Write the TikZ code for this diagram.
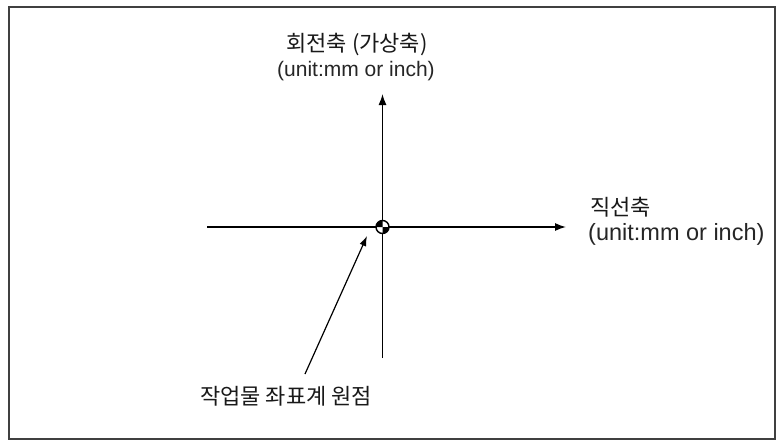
\documentclass[tikz,border=0pt]{standalone}
\usepackage{fontspec}
\setmainfont{Liberation Sans}
\newfontfamily\kr{Noto Sans CJK KR}
\usetikzlibrary{arrows.meta}
\begin{document}
\begin{tikzpicture}[x=1pt,y=-1pt,
  axis/.style={line width=1.4pt,-{Latex[length=11pt,width=8pt]}},
  axisplain/.style={line width=1.4pt},
  krtext/.style={inner sep=0pt,font=\kr\fontsize{22}{26}\selectfont,text=black!90},
  latin/.style={inner sep=0pt,text=black!85}]
\useasboundingbox (0,0) rectangle (777,442);
\fill[white] (0,0) rectangle (777,442);
\draw[line width=2pt,black!75] (9,7) rectangle (775,439);
% nodes
\coordinate (o) at (382.5,227);
\coordinate (xl) at (207,227);
\coordinate (xr) at (566,227);
\coordinate (yb) at (382.5,358);
\coordinate (yt) at (382.5,94);
\coordinate (pstart) at (305,374);
\coordinate (pend) at (367,236);
\draw[axisplain] (xl) -- (o);
\draw[axis] (o) -- (xr);
\draw[axisplain] (yb) -- (o);
\draw[axis] (o) -- (yt);
\draw[line width=1.2pt,-{Latex[length=10pt,width=7pt]}] (pstart) -- (pend);
% origin symbol
\fill[white] (o) circle[radius=6.5];
\fill[black] (o) -- ++(6.5,0) arc[start angle=0,end angle=90,radius=6.5] -- cycle;
\fill[black] (o) -- ++(-6.5,0) arc[start angle=180,end angle=270,radius=6.5] -- cycle;
\draw[line width=1.4pt] (o) circle[radius=6.5];
% labels
\node[krtext] (ttop) at (357,45) {회전축 (가상축)};
\node[latin,font=\fontsize{21}{24}\selectfont] (ttop2) at (356,71) {(unit:mm or inch)};
\node[krtext,anchor=west] (tright) at (590,207) {직선축};
\node[latin,anchor=west,font=\fontsize{23.5}{26}\selectfont] (tright2) at (588,234) {(unit:mm or inch)};
\node[krtext] (tbot) at (286,396) {작업물 좌표계 원점};
\end{tikzpicture}
\end{document}
